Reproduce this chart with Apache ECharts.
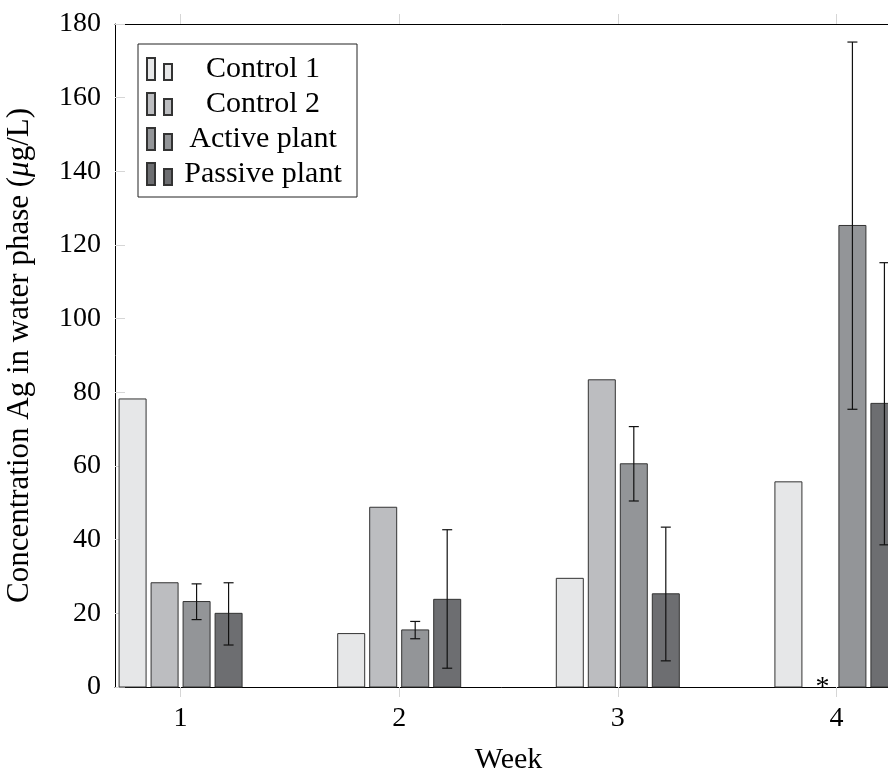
<!DOCTYPE html>
<html>
<head>
<meta charset="utf-8">
<script src="https://cdn.jsdelivr.net/npm/echarts@6/dist/echarts.min.js"></script>
<style>
  html, body { margin: 0; padding: 0; background: #fff; }
  #chart { width: 888px; height: 769px; }
</style>
</head>
<body>
<div id="chart"></div>
<script>
// data
var weeks = [1, 2, 3, 4];
var seriesNames = ['Control 1', 'Control 2', 'Active plant', 'Passive plant'];
var control1 = [78.2, 14.5, 29.5, 55.7];
var control2 = [28.3, 48.8, 83.4, null];   // week 4 missing, marked with *
var active = [23.2, 15.5, 60.6, 125.3];
var activeLow = [18.3, 13.1, 50.5, 75.4];
var activeHigh = [28.0, 17.8, 70.7, 175.1];
var passive = [20.0, 23.8, 25.3, 77.0];
var passiveLow = [11.4, 5.1, 7.1, 38.6];
var passiveHigh = [28.3, 42.7, 43.4, 115.2];
var yTicks = [0, 20, 40, 60, 80, 100, 120, 140, 160, 180];

var FONT = 'Liberation Serif';
var colors = ['#e6e7e8', '#bcbdc0', '#939598', '#6d6e71'];
var BAR_W = 27, BAR_STEP = 32, CAP = 5;

function pack(vals, lows, highs) {
    return weeks.map(function (w, i) {
        var v = vals[i] == null ? '-' : vals[i];
        return lows ? [w, v, lows[i], highs[i]] : [w, v];
    });
}

function makeRender(slot, withErr) {
    return function (params, api) {
        var week = api.value(0);
        var v = api.value(1);
        var base = api.coord([week, 0]);
        var cx = base[0] + (slot - 1.5) * BAR_STEP;
        if (isNaN(v)) {
            // missing value: asterisk on the baseline
            return {
                type: 'text',
                style: { text: '*', x: cx + 2, y: base[1] + 15, align: 'center', verticalAlign: 'bottom',
                         fontSize: 28, fontFamily: FONT, fill: '#000' }
            };
        }
        var top = api.coord([week, v]);
        var children = [{
            type: 'rect',
            shape: { x: cx - BAR_W / 2, y: top[1], width: BAR_W, height: base[1] - top[1] },
            style: api.style()
        }];
        if (withErr) {
            var lo = api.coord([week, api.value(2)])[1];
            var hi = api.coord([week, api.value(3)])[1];
            var ls = { stroke: '#111', lineWidth: 1.2 };
            children.push(
                { type: 'line', shape: { x1: cx, y1: lo, x2: cx, y2: hi }, style: ls },
                { type: 'line', shape: { x1: cx - CAP, y1: lo, x2: cx + CAP, y2: lo }, style: ls },
                { type: 'line', shape: { x1: cx - CAP, y1: hi, x2: cx + CAP, y2: hi }, style: ls }
            );
        }
        return { type: 'group', children: children };
    };
}

var groups = [
    pack(control1),
    pack(control2),
    pack(active, activeLow, activeHigh),
    pack(passive, passiveLow, passiveHigh)
];

var series = groups.map(function (d, i) {
    return {
        name: seriesNames[i],
        type: 'custom',
        xAxisIndex: 0,
        yAxisIndex: 0,
        itemStyle: { color: colors[i], borderColor: '#333', borderWidth: 1 },
        renderItem: makeRender(i, i >= 2),
        data: d
    };
});

var myChart = echarts.init(document.getElementById('chart'), null, { renderer: 'canvas' });
var option = {
    backgroundColor: '#fff',
    animation: false,
    textStyle: { fontFamily: FONT },
    grid: { left: 115, top: 24, width: 787, bottom: 82, outerBoundsMode: 'none', containLabel: false },
    legend: {
        orient: 'vertical',
        left: 138,
        top: 44,
        padding: [10, 8, 8, 8],
        itemGap: 5,
        itemWidth: 25,
        itemHeight: 22,
        borderColor: '#222',
        borderWidth: 1,
        backgroundColor: '#fff',
        data: seriesNames.map(function (n) {
            return { name: n, icon: 'path://M0,0h8v22h-8Z M17,6h8v16h-8Z' };
        }),
        formatter: function (name) { return '{c|' + name + '}'; },
        textStyle: {
            fontFamily: FONT, fontSize: 30,
            rich: { c: { width: 172, align: 'center', fontSize: 30, lineHeight: 30, fontFamily: FONT, color: '#000' } }
        }
    },
    xAxis: [
        {
            type: 'value', position: 'bottom', min: 0.7, max: 4.3,
            name: 'Week', nameLocation: 'middle', nameGap: 58,
            nameTextStyle: { fontSize: 30, fontFamily: FONT, color: '#000' },
            axisLine: { show: true, lineStyle: { color: '#000', width: 1 } },
            axisTick: { show: true, inside: false, length: 10, customValues: weeks, lineStyle: { color: '#d6d6d6' } },
            axisLabel: { customValues: weeks, fontSize: 28, fontFamily: FONT, color: '#000', margin: 18 },
            splitLine: { show: false }
        },
        {
            type: 'value', position: 'top', min: 0.7, max: 4.3,
            axisLine: { show: true, lineStyle: { color: '#000', width: 1 } },
            axisTick: { show: true, inside: false, length: 10, customValues: weeks, lineStyle: { color: '#d6d6d6' } },
            axisLabel: { show: false },
            splitLine: { show: false }
        }
    ],
    yAxis: {
        type: 'value', min: 0, max: 180, interval: 20,
        name: '{n|Concentration Ag in water phase (}{i|μ}{n|g/L)}',
        nameLocation: 'middle', nameGap: 80,
        nameTextStyle: {
            fontFamily: FONT, fontSize: 31,
            rich: {
                n: { fontSize: 31, fontFamily: FONT, color: '#000' },
                i: { fontSize: 31, fontFamily: FONT, fontStyle: 'italic', color: '#000' }
            }
        },
        axisLine: { show: true, lineStyle: { color: '#000', width: 1 } },
        axisTick: { show: true, inside: true, length: 10, lineStyle: { color: '#d6d6d6' } },
        axisLabel: {
            fontSize: 28, fontFamily: FONT, color: '#000', margin: 14,
            formatter: function (v) { return yTicks.indexOf(v) >= 0 ? String(v) : ''; }
        },
        splitLine: { show: false }
    },
    series: series
};
myChart.setOption(option);
</script>
</body>
</html>
